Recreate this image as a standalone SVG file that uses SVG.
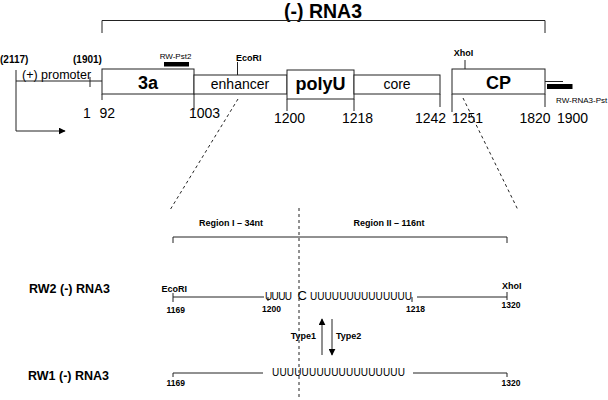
<svg xmlns="http://www.w3.org/2000/svg" width="608" height="400" viewBox="0 0 608 400">
<defs>
<style>
.ln{stroke:#222;stroke-width:1;fill:none}
.box{stroke:#222;stroke-width:1;fill:#fff}
.dash{stroke:#222;stroke-width:1;fill:none;stroke-dasharray:3,3}
.t{font-family:"Liberation Sans",Arial,sans-serif;fill:#000}
.b{font-weight:bold}
.bar{fill:#000}
</style>
<marker id="ah" viewBox="0 0 10 10" refX="9" refY="5" markerWidth="7" markerHeight="7" markerUnits="userSpaceOnUse" orient="auto">
<path d="M0,0 L10,5 L0,10 z" fill="#000"/>
</marker>
</defs>
<rect width="608" height="400" fill="#fff"/>

<g id="title">
<text class="t b" x="323" y="18" font-size="19.5" text-anchor="middle">(-) RNA3</text>
<path class="ln" d="M102,33 V20.5 H545 V33"/>
</g>

<g id="promoter">
<text class="t b" x="0" y="63" font-size="10">(2117)</text>
<text class="t b" x="73" y="63" font-size="10">(1901)</text>
<text class="t" x="22" y="79" font-size="12.5">(+) promoter</text>
<path class="ln" d="M16,70 V131 M16,81 H102 M90,77 V87"/>
<path class="ln" d="M16,131 H65" marker-end="url(#ah)"/>
</g>

<g id="node-3a">
<rect class="box" x="102" y="69" width="92" height="25"/>
<path class="ln" d="M102,94 V100 M194,94 V110"/>
<text class="t b" x="148" y="89" font-size="18" text-anchor="middle">3a</text>
<text class="t" x="175.5" y="59" font-size="8" text-anchor="middle">RW-Pst2</text>
<rect class="bar" x="164" y="62" width="25" height="4.5"/>
</g>

<g id="node-enhancer">
<rect class="box" x="194" y="75" width="93" height="19"/>
<path class="ln" d="M237.5,62 V75"/>
<text class="t b" x="236" y="60.5" font-size="9">EcoRI</text>
<text class="t" x="240" y="89" font-size="14" text-anchor="middle">enhancer</text>
</g>

<g id="node-polyU">
<rect class="box" x="287" y="70" width="67" height="29"/>
<path class="ln" d="M287,99 V111 M354,99 V111"/>
<text class="t b" x="320.5" y="90" font-size="18" text-anchor="middle">polyU</text>
</g>

<g id="node-core">
<rect class="box" x="354" y="75" width="86" height="19"/>
<path class="ln" d="M440,94 V107"/>
<text class="t" x="397" y="89" font-size="14" text-anchor="middle">core</text>
</g>

<g id="node-CP">
<rect class="box" x="452" y="69" width="93" height="25"/>
<path class="ln" d="M452,94 V112 M545,94 V107 M465,60 V69 M545,81.5 H563"/>
<text class="t b" x="463.5" y="55.5" font-size="9" text-anchor="middle">XhoI</text>
<text class="t b" x="498.5" y="89" font-size="18" text-anchor="middle">CP</text>
<rect class="bar" x="547" y="84" width="25.5" height="5"/>
<text class="t" x="556" y="102.5" font-size="8">RW-RNA3-Pst</text>
</g>

<g id="positions">
<text class="t" x="83" y="118" font-size="14">1</text>
<text class="t" x="99.5" y="118" font-size="14">92</text>
<text class="t" x="189" y="118" font-size="14">1003</text>
<text class="t" x="274" y="123" font-size="14">1200</text>
<text class="t" x="342" y="123" font-size="14">1218</text>
<text class="t" x="415" y="123" font-size="14">1242</text>
<text class="t" x="452" y="123" font-size="14">1251</text>
<text class="t" x="519.5" y="123" font-size="14">1820</text>
<text class="t" x="557" y="123" font-size="14">1900</text>
</g>

<g id="connectors">
<path class="dash" d="M238,99 L170,210"/>
<path class="dash" d="M463,98 L518,210"/>
<path class="dash" d="M299,208 V400"/>
<path class="ln" d="M322,355 V319" marker-end="url(#ah)"/>
<path class="ln" d="M332,319 V355" marker-end="url(#ah)"/>
</g>

<g id="regions">
<path class="ln" d="M173,243 V237 H507 V243"/>
<text class="t b" x="231" y="226" font-size="9" text-anchor="middle">Region I – 34nt</text>
<text class="t b" x="389" y="226" font-size="9" text-anchor="middle">Region II – 116nt</text>
</g>

<g id="RW2">
<text class="t b" x="29" y="293" font-size="12.5">RW2 (-) RNA3</text>
<path class="ln" d="M173,297 H264 M417,297 H507 M173,293 V302 M507,292 V300 M268,297 V301 M412,297 V302"/>
<text class="t b" x="161.5" y="292" font-size="9">EcoRI</text>
<text class="t b" x="502" y="289" font-size="9">XhoI</text>
<text class="t b" x="166.5" y="312.5" font-size="8.5">1169</text>
<text class="t b" x="262" y="312" font-size="8.5">1200</text>
<text class="t b" x="406" y="312" font-size="8.5">1218</text>
<text class="t b" x="501.5" y="308" font-size="8.5">1320</text>
<text class="t" y="300" font-size="10"><tspan x="265" textLength="27" lengthAdjust="spacing">UUUU</tspan><tspan x="297.5" font-size="13">C</tspan><tspan x="310" textLength="102" lengthAdjust="spacing">UUUUUUUUUUUUUU</tspan></text>
</g>

<g id="types">
<text class="t b" x="316" y="339" font-size="9" text-anchor="end">Type1</text>
<text class="t b" x="336" y="339" font-size="9">Type2</text>
</g>

<g id="RW1">
<text class="t b" x="28" y="380" font-size="12.5">RW1 (-) RNA3</text>
<path class="ln" d="M173,373 H263 M413,373 H507 M173,373 V377 M507,373 V377"/>
<text class="t" x="272" y="376" font-size="10" textLength="133" lengthAdjust="spacing">UUUUUUUUUUUUUUUUUU</text>
<text class="t b" x="166.5" y="386" font-size="8.5">1169</text>
<text class="t b" x="501.5" y="386" font-size="8.5">1320</text>
</g>
</svg>
